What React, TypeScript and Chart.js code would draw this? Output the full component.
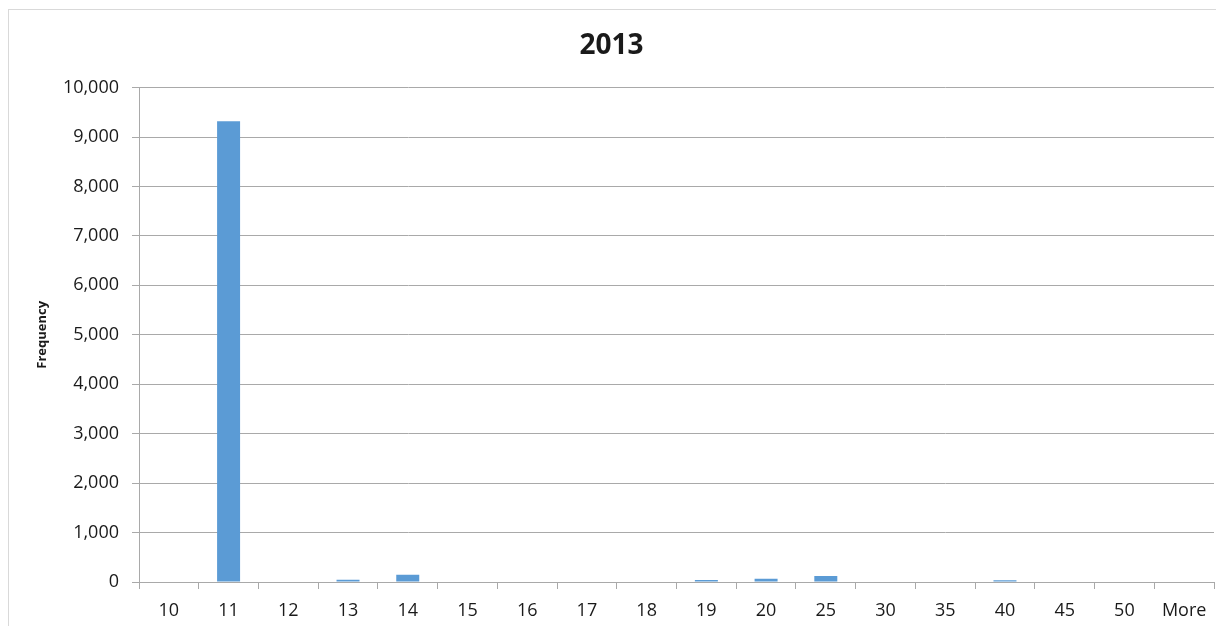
import React, { useEffect, useRef } from "react";
import { Chart, registerables } from "chart.js";

Chart.register(...registerables);

// Histogram bins and their counts
const bins = ["10", "11", "12", "13", "14", "15", "16", "17", "18", "19", "20", "25", "30", "35", "40", "45", "50", "More"];
const frequency = [0, 9320, 0, 45, 145, 0, 0, 0, 0, 40, 65, 120, 0, 0, 35, 0, 0, 0];
const chartTitle = "2013";
const yAxisTitle = "Frequency";

const FONT = "'Open Sans', 'DejaVu Sans', sans-serif";
const TEXT = "#1a1a1a";
const GRID = "#a9a9a9";

export default function App() {
  const canvasRef = useRef<HTMLCanvasElement | null>(null);

  useEffect(() => {
    const canvas = canvasRef.current;
    if (!canvas) return;
    const chart = new Chart(canvas, {
      type: "bar",
      data: {
        labels: bins,
        datasets: [
          {
            label: yAxisTitle,
            data: frequency,
            backgroundColor: "#5b9bd5",
            borderWidth: 0,
            barPercentage: 0.385,
            categoryPercentage: 1,
          },
        ],
      },
      options: {
        responsive: false,
        animation: false,
        layout: { padding: { left: 0, right: 10, top: 0, bottom: 0 } },
        plugins: {
          legend: { display: false },
          tooltip: { enabled: false },
          title: {
            display: true,
            text: chartTitle,
            color: TEXT,
            font: { family: FONT, size: 28, weight: "bold", lineHeight: 1.2 },
            padding: { top: 19, bottom: 25 },
          },
        },
        scales: {
          x: {
            offset: true,
            grid: {
              offset: true,
              drawOnChartArea: false,
              drawTicks: true,
              tickLength: 7,
              color: GRID,
            },
            border: { color: GRID, width: 1 },
            ticks: {
              color: TEXT,
              font: { family: FONT, size: 18 },
              padding: 11,
              maxRotation: 0,
              autoSkip: false,
            },
            afterFit: (scale: any) => {
              scale.height = 44;
            },
          },
          y: {
            min: 0,
            max: 10000,
            grid: { color: GRID, tickLength: 7, drawTicks: true },
            border: { color: GRID, width: 1 },
            ticks: {
              stepSize: 1000,
              color: TEXT,
              font: { family: FONT, size: 18 },
              padding: 13,
              callback: (v: any) => Number(v).toLocaleString("en-US"),
            },
            title: {
              display: true,
              text: yAxisTitle,
              color: TEXT,
              font: { family: FONT, size: 13, weight: "bold", lineHeight: 1.2 },
              padding: { top: 25, bottom: 0 },
            },
            afterFit: (scale: any) => {
              scale.width = 130;
            },
          },
        },
      },
    });
    return () => chart.destroy();
  }, []);

  return (
    <div
      style={{
        marginTop: 1,
        borderLeft: "1px solid #d9d9d9",
        borderTop: "1px solid #d9d9d9",
        width: 1216,
        height: 616,
        overflow: "hidden",
      }}
    >
      <canvas ref={canvasRef} width={1215} height={616} style={{ display: "block" }} />
    </div>
  );
}
